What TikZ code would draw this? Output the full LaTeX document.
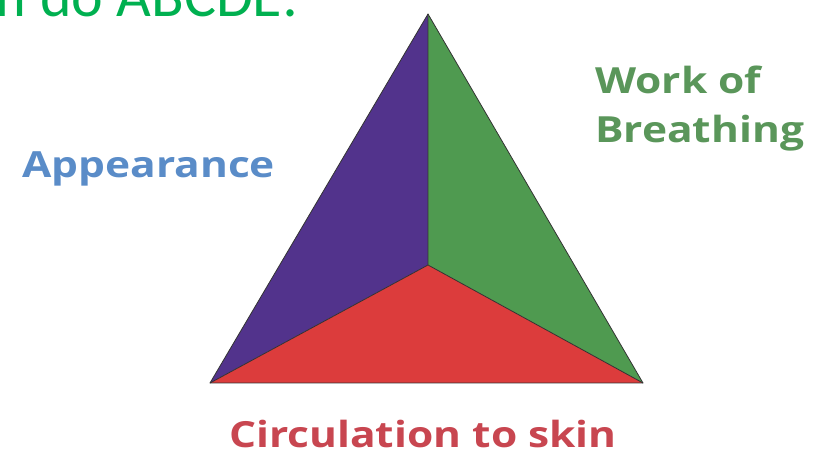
\documentclass[tikz,border=0pt]{standalone}
\usepackage{xcolor}
\usepackage{fontspec}
\setmainfont{Carlito}
\newfontfamily\patfont{Open Sans}
\usetikzlibrary{positioning,calc}
\definecolor{patApp}{HTML}{52338C}
\definecolor{patWob}{HTML}{4F9A50}
\definecolor{patCirc}{HTML}{DC3C3C}
\definecolor{patAppTxt}{HTML}{5A8CC8}
\definecolor{patWobTxt}{HTML}{5A965A}
\definecolor{patCircTxt}{HTML}{C84650}
\definecolor{patHead}{HTML}{00B050}
\tikzset{
  sector/.style={draw=black!80, line width=0.8pt, line join=round},
  patlabel/.style={font=\patfont\fontsize{36}{49}\selectfont\bfseries, align=left,
    inner sep=0pt, xscale=1.18, transform shape},
  headline/.style={font=\fontsize{60}{64}\selectfont, text=patHead, inner sep=0pt, anchor=base west}
}
\begin{document}
\begin{tikzpicture}[x=1pt, y=-1pt]
  \useasboundingbox (0,0) rectangle (825,454);
  \clip (0,0) rectangle (825,454);
  % corners of the triangle
  \coordinate (top) at (428,14);
  \coordinate (left) at (210,383);
  \coordinate (right) at (643,383);
  \coordinate (mid) at (428,265);
  % three sectors
  \fill[patApp] (top) -- (mid) -- (left) -- cycle;
  \fill[patWob] (top) -- (right) -- (mid) -- cycle;
  \fill[patCirc] (mid) -- (right) -- (left) -- cycle;
  \draw[sector] (top) -- (left) -- (right) -- cycle;
  \draw[sector] (top) -- (mid) (left) -- (mid) -- (right);
  % labels
  \node[headline] (head) at (-100,17) {Além do ABCDE:};
  \node[patlabel, text=patAppTxt, anchor=base west] (app) at (22,178) {Appearance};
  \node[patlabel, text=patWobTxt, anchor=base west] (wob) at (595,143) {Work of\\Breathing};
  \node[patlabel, text=patCircTxt, anchor=base] (circ) at (423,447) {Circulation to skin};
\end{tikzpicture}
\end{document}
